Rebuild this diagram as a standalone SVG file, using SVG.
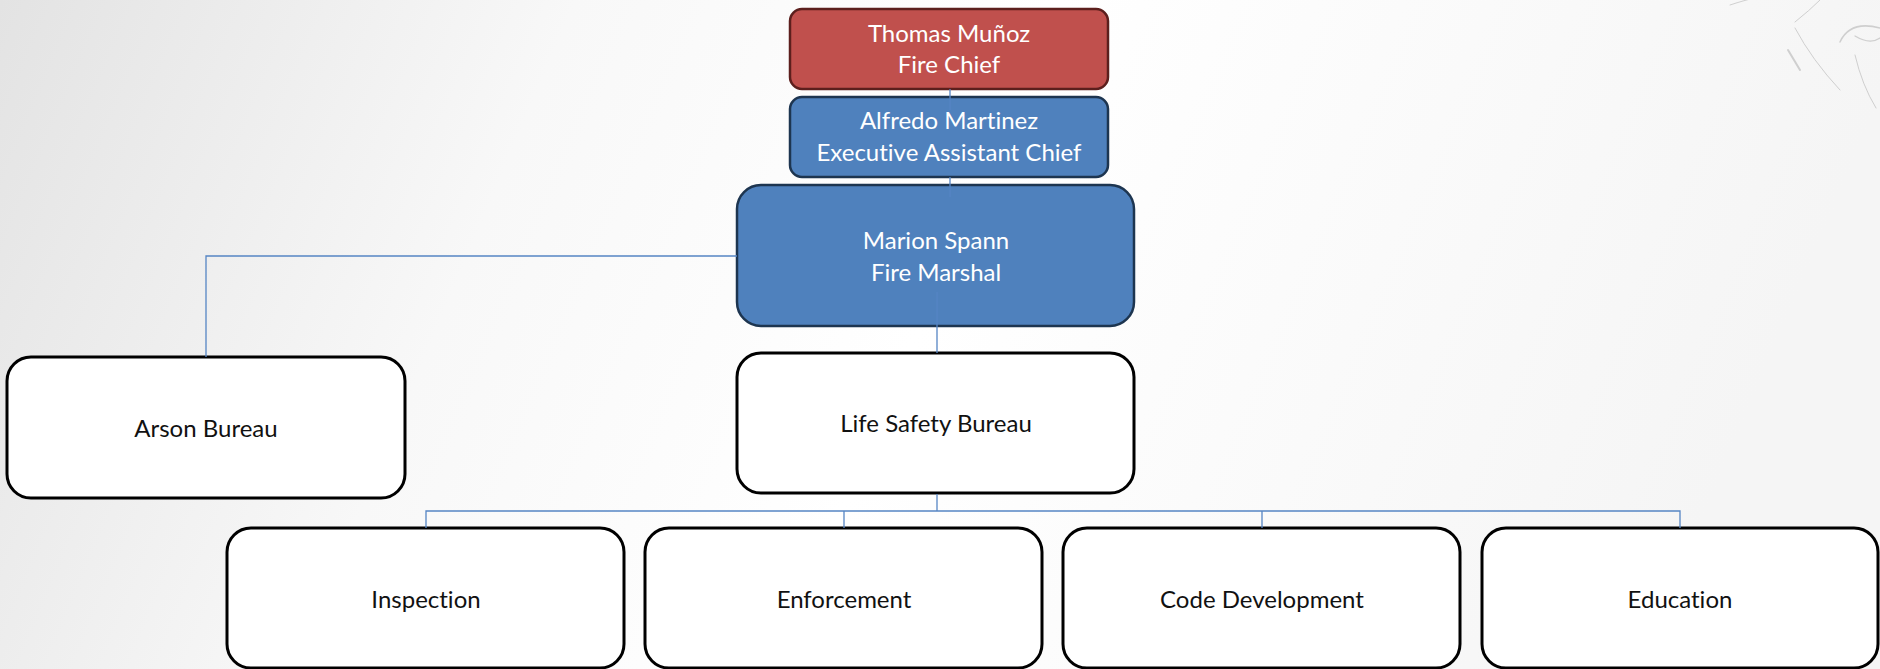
<svg xmlns="http://www.w3.org/2000/svg" width="1880" height="669" viewBox="0 0 1880 669">
<defs>
<linearGradient id="bg" x1="0" y1="0" x2="1" y2="0.15">
<stop offset="0" stop-color="#e3e3e3"/>
<stop offset="0.3" stop-color="#f8f8f8"/>
<stop offset="0.55" stop-color="#ffffff"/>
<stop offset="1" stop-color="#f5f5f5"/>
</linearGradient>
<style>
.t{font-family:Lato,"Open Sans","Liberation Sans",sans-serif;font-size:24px;text-anchor:middle;font-variant-ligatures:none;font-feature-settings:"liga" 0}
.w{fill:#ffffff}
.k{fill:#111111}
.red{fill:#c0504d;stroke:#5c1f1d;stroke-width:2.5}
.blue{fill:#4f81bd;stroke:#1d3550;stroke-width:2.5}
.white{fill:#ffffff;stroke:#000000;stroke-width:3}
.c{stroke:#5585c4;stroke-width:1.3;fill:none}
.smoke{stroke:#888;fill:none;stroke-linecap:round}
</style>
</defs>
<rect x="0" y="0" width="1880" height="669" fill="url(#bg)"/>
<g id="smoke" opacity="0.35">
<path class="smoke" stroke-width="1" d="M1795 28 Q1812 60 1840 90"/>
<path class="smoke" stroke-width="2" d="M1788 50 L1800 70"/>
<path class="smoke" stroke-width="1.5" d="M1840 42 Q1850 20 1880 28"/>
<path class="smoke" stroke-width="1.2" d="M1855 36 Q1870 45 1880 38"/>
<path class="smoke" stroke-width="1" d="M1855 55 Q1862 85 1876 108"/>
<path class="smoke" stroke-width="1" d="M1795 22 Q1810 10 1820 0"/>
<path class="smoke" stroke-width="1" d="M1730 5 Q1745 0 1755 -2"/>
</g>
<g id="n-chief">
<rect class="red" x="790" y="9" width="318" height="80" rx="12"/>
<text class="t w" x="949" y="42">Thomas Muñoz</text>
<text class="t w" x="949" y="73">Fire Chief</text>
</g>
<g id="n-eac">
<rect class="blue" x="790" y="97" width="318" height="80" rx="12"/>
<text class="t w" x="949" y="129">Alfredo Martinez</text>
<text class="t w" x="949" y="161">Executive Assistant Chief</text>
</g>
<g id="n-marshal">
<rect class="blue" x="737" y="185" width="397" height="141" rx="24"/>
<text class="t w" x="936" y="249">Marion Spann</text>
<text class="t w" x="936" y="281">Fire Marshal</text>
</g>
<g id="n-arson">
<rect class="white" x="7" y="357" width="398" height="141" rx="24"/>
<text class="t k" x="206" y="437">Arson Bureau</text>
</g>
<g id="n-life">
<rect class="white" x="737" y="353" width="397" height="140" rx="24"/>
<text class="t k" x="936" y="432">Life Safety Bureau</text>
</g>
<g id="n-inspection">
<rect class="white" x="227" y="528" width="397" height="140" rx="24"/>
<text class="t k" x="426" y="608">Inspection</text>
</g>
<g id="n-enforcement">
<rect class="white" x="645" y="528" width="397" height="140" rx="24"/>
<text class="t k" x="844" y="608">Enforcement</text>
</g>
<g id="n-code">
<rect class="white" x="1063" y="528" width="397" height="140" rx="24"/>
<text class="t k" x="1262" y="608">Code Development</text>
</g>
<g id="n-education">
<rect class="white" x="1482" y="528" width="396" height="140" rx="24"/>
<text class="t k" x="1680" y="608">Education</text>
</g>
<g id="connectors">
<path class="c" d="M950 89 V110"/>
<path class="c" d="M950 177 V197"/>
<path class="c" d="M737 256 H206 V357"/>
<path class="c" d="M937 292 V353"/>
<path class="c" d="M937 494 V511"/>
<path class="c" d="M426 528 V511 H1680 V528"/>
<path class="c" d="M844 511 V528"/>
<path class="c" d="M1262 511 V528"/>
</g>
</svg>
